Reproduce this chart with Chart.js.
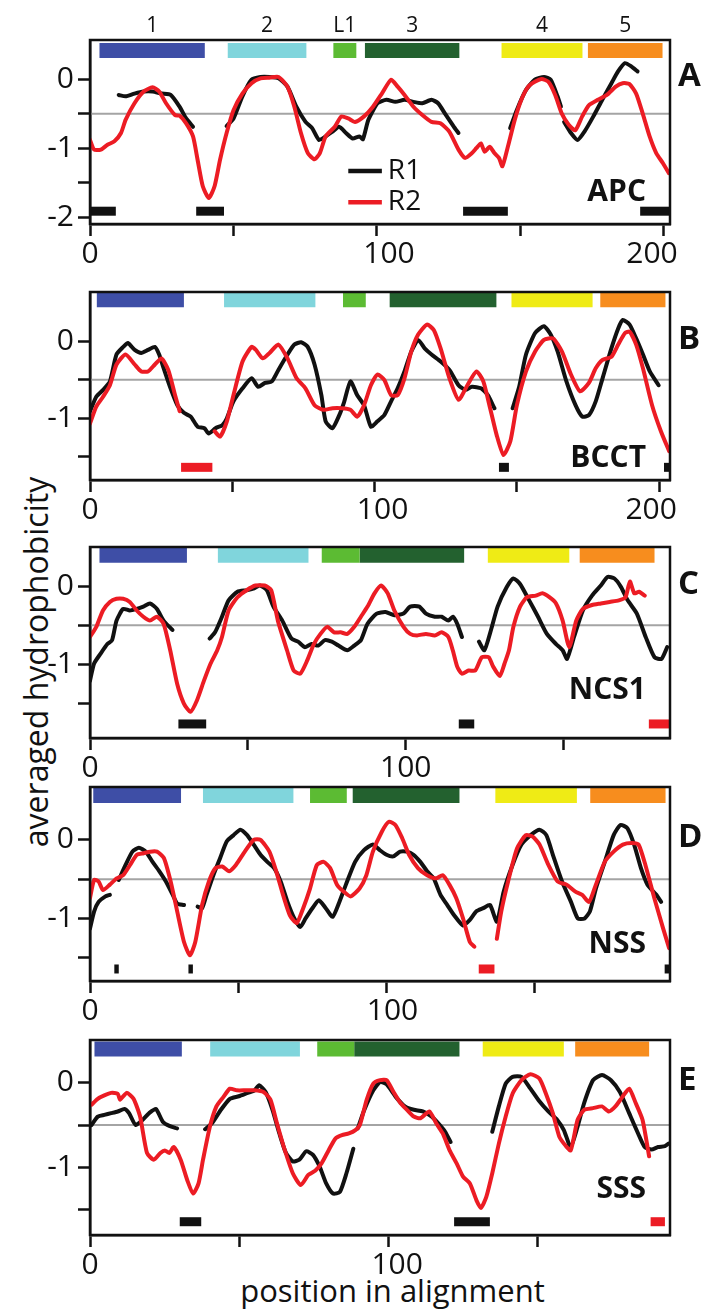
<!DOCTYPE html>
<html>
<head>
<meta charset="utf-8">
<title>averaged hydrophobicity</title>
<script src="https://cdn.jsdelivr.net/npm/chart.js@4.4.1/dist/chart.umd.min.js"></script>
<style>
  html, body { margin: 0; padding: 0; background: #fff; }
  #fig { position: relative; width: 705px; height: 1312px; overflow: hidden; font-family: "Open Sans", sans-serif; color: #111; }
  #fig canvas { position: absolute; left: 0; }
  .ytitle { position: absolute; left: -214px; top: 642px; width: 500px; height: 40px; line-height: 40px;
            text-align: center; font-size: 32px; transform: rotate(-90deg); white-space: nowrap; }
  .xtitle { position: absolute; left: 0; top: 1272px; width: 785px; text-align: center; font-size: 31px; line-height: 36px; white-space: nowrap; }
</style>
</head>
<body>
<div id="fig">
  <div class="ytitle">averaged hydrophobicity</div>
  <div class="xtitle">position in alignment</div>
</div>
<script>
// averaged hydrophobicity along the alignment, [position, value]; a null value breaks the trace
const apcR1 = [[10,-0.23],[12.4,-0.25],[15.5,-0.21],[18.7,-0.18],[21.8,-0.18],[24.9,-0.21],[28.1,-0.23],[31.2,-0.40],[33.5,-0.57],[35.9,-0.69],[41,null],
  [47.6,-0.68],[50,-0.57],[53.1,-0.25],[56.3,-0.01],[59.4,0.03],[62.5,0.03],[65.7,0.01],[68.8,-0.11],[71.9,-0.40],[75.1,-0.62],[77.4,-0.71],[79.8,-0.88],[82.1,-0.83],[84.5,-0.76],[86.8,-0.69],[89.2,-0.78],[91.5,-0.86],[93.9,-0.83],[95.1,-0.87],[97,-0.59],[100.2,-0.35],[103.3,-0.30],[106.4,-0.33],[109.6,-0.30],[112.7,-0.33],[115.8,-0.35],[119,-0.30],[121.3,-0.35],[123.7,-0.50],[126.8,-0.69],[128.4,-0.78],[137,null],
  [146.4,-0.71],[148.7,-0.45],[151.9,-0.16],[155,-0.01],[158.2,0.03],[160.5,-0.01],[162.9,-0.25],[164.1,-0.40],[164.6,null],
  [165.2,-0.62],[167.6,-0.78],[169.9,-0.88],[172.3,-0.76],[175.4,-0.54],[178.5,-0.30],[181.7,-0.06],[184,0.11],[186.4,0.23],[188.7,0.18],[190.8,0.11]];
const apcR2 = [[0,-0.88],[1.4,-1.02],[3.8,-1.02],[6.1,-0.95],[8.5,-0.90],[10.8,-0.78],[12.4,-0.59],[15.5,-0.35],[18.7,-0.18],[21.8,-0.12],[24.1,-0.18],[26.5,-0.35],[29.6,-0.52],[31.2,-0.53],[33.5,-0.64],[35.9,-0.83],[37.5,-1.17],[39.3,-1.55],[41.4,-1.72],[43.4,-1.55],[45.3,-1.17],[47.6,-0.78],[50,-0.45],[53.1,-0.21],[56.3,-0.06],[59.4,0.01],[62.5,0.02],[65.7,0.03],[68.8,-0.11],[71.2,-0.40],[73.5,-0.78],[75.9,-1.07],[78.2,-1.16],[80.1,-1.07],[82.1,-0.83],[85.3,-0.69],[87.6,-0.54],[90,-0.57],[92.3,-0.62],[95.5,-0.54],[98.6,-0.40],[101.7,-0.21],[104.9,-0.01],[107.2,-0.11],[109.6,-0.23],[112.7,-0.40],[115.8,-0.52],[119,-0.62],[122.1,-0.64],[125.2,-0.76],[128.4,-1.02],[130.7,-1.14],[133.1,-1.07],[134.6,-1.00],[136.2,-0.93],[137.5,-1.05],[139.3,-0.98],[140.9,-1.07],[142.5,-1.14],[143.7,-1.26],[145.6,-0.98],[148,-0.59],[150.3,-0.30],[152.7,-0.11],[155,-0.04],[157.4,0.00],[159.7,-0.04],[162.1,-0.23],[164.4,-0.50],[166.8,-0.66],[169.1,-0.74],[171.5,-0.54],[173.8,-0.38],[177,-0.30],[180.1,-0.23],[183.2,-0.11],[185.6,-0.06],[187.9,-0.07],[190.3,-0.21],[192.6,-0.50],[195,-0.83],[197.3,-1.07],[199.7,-1.22],[201.7,-1.36]];

const bcctR1 = [[0,-0.91],[2.2,-0.72],[4.6,-0.63],[7,-0.52],[9.3,-0.17],[11.7,-0.07],[13.3,-0.02],[15.7,-0.11],[18,-0.15],[20.4,-0.11],[22.8,-0.07],[24.3,-0.17],[25.9,-0.35],[28.3,-0.61],[30.7,-0.83],[33,-0.93],[35.4,-0.98],[37.8,-1.11],[40.2,-1.13],[41.7,-1.20],[44.1,-1.13],[46.5,-1.09],[48.1,-1.00],[50.4,-0.78],[53.6,-0.61],[56.8,-0.48],[59.1,-0.59],[61.5,-0.54],[63.9,-0.52],[66.2,-0.37],[69.4,-0.17],[71.8,-0.04],[74.2,-0.01],[76.5,-0.07],[78.9,-0.30],[81.3,-0.70],[82.8,-1.04],[85.2,-1.13],[87.6,-0.96],[89.2,-0.80],[91.5,-0.52],[93.9,-0.70],[96.3,-0.83],[98.7,-1.11],[101,-1.04],[103.4,-0.96],[105.8,-0.78],[108.1,-0.61],[110.5,-0.39],[112.9,-0.13],[115.3,0.02],[117.6,-0.09],[120,-0.17],[123.2,-0.26],[126.3,-0.37],[129.5,-0.57],[131.9,-0.63],[134.2,-0.59],[137.4,-0.61],[139.8,-0.70],[142.1,-0.87],[145,null],
  [148.5,-0.87],[150.8,-0.59],[153.2,-0.17],[156.4,0.11],[159.5,0.20],[161.9,0.09],[164.3,-0.13],[167.4,-0.52],[170.6,-0.83],[173,-0.98],[175.3,-0.96],[177.7,-0.78],[180.1,-0.48],[183.2,-0.09],[185.6,0.17],[187.2,0.28],[189.6,0.22],[191.9,0.04],[194.3,-0.17],[196.7,-0.39],[199.8,-0.57]];
const bcctR2 = [[0,-1.07],[2.2,-0.85],[4.6,-0.72],[7,-0.57],[9.3,-0.30],[12.5,-0.17],[15.7,-0.30],[18,-0.39],[20.4,-0.39],[22.8,-0.30],[25.1,-0.22],[27.5,-0.37],[29.9,-0.70],[31.5,-0.91],[38,null],
  [43.8,-1.17],[45.7,-1.24],[48.1,-1.04],[50.4,-0.70],[53.6,-0.26],[56.8,-0.07],[58.3,-0.11],[60.7,-0.22],[63.1,-0.15],[66.2,-0.04],[69.4,-0.22],[72.6,-0.48],[75.7,-0.61],[78.9,-0.83],[82.1,-0.89],[85.2,-0.87],[88.4,-0.87],[91.5,-0.89],[93.9,-0.98],[96.3,-0.83],[98.7,-0.57],[101,-0.43],[103.4,-0.50],[105.8,-0.70],[108.1,-0.70],[110.5,-0.48],[112.9,-0.13],[115.3,0.09],[118.4,0.22],[120.8,0.15],[123.2,-0.09],[126.3,-0.48],[129.5,-0.76],[132.6,-0.57],[135.8,-0.39],[138.2,-0.52],[140.6,-0.87],[142.9,-1.22],[145.3,-1.48],[147.7,-1.30],[150,-0.83],[153.2,-0.39],[156.4,-0.13],[159.5,0.02],[162.7,0.04],[165.8,-0.13],[169,-0.43],[172.2,-0.65],[175.3,-0.54],[177.7,-0.35],[180.1,-0.24],[183.2,-0.20],[185.6,-0.04],[188,0.11],[189.6,0.13],[191.9,-0.04],[194.3,-0.35],[197.5,-0.83],[200.6,-1.17],[203.5,-1.43]];

const ncsR1 = [[0,-1.21],[1.3,-0.99],[3.4,-0.86],[5.5,-0.74],[7,-0.69],[8.4,-0.44],[10.5,-0.29],[12.6,-0.31],[14.8,-0.29],[16.9,-0.26],[19,-0.22],[21.2,-0.29],[23.3,-0.44],[26.1,-0.56],[32,null],
  [37.9,-0.67],[39.6,-0.59],[41.8,-0.39],[43.9,-0.18],[46.7,-0.07],[49.6,-0.05],[51.7,-0.03],[53.8,0.01],[56,-0.05],[58.1,-0.26],[60.9,-0.44],[63.8,-0.67],[65.9,-0.71],[68,-0.78],[70.2,-0.74],[72.3,-0.76],[74.4,-0.69],[76.6,-0.71],[78.7,-0.76],[81.5,-0.82],[83.7,-0.76],[85.8,-0.69],[87.9,-0.48],[90.8,-0.35],[93.6,-0.33],[96.4,-0.37],[99.3,-0.35],[101.4,-0.26],[104.3,-0.26],[106.4,-0.35],[109.2,-0.39],[111.4,-0.39],[113.5,-0.44],[114.9,-0.39],[116.3,-0.48],[117.8,-0.65],[120,null],
  [123.2,-0.71],[124.9,-0.82],[127,-0.56],[129.1,-0.26],[132,-0.01],[134.1,0.10],[136.2,0.03],[139.1,-0.18],[141.9,-0.39],[144.7,-0.61],[147.6,-0.74],[149.7,-0.82],[151.1,-0.93],[153.3,-0.65],[156.1,-0.31],[159,-0.12],[161.8,0.01],[163.9,0.12],[166.1,0.10],[168.2,-0.01],[170.3,-0.18],[173.2,-0.35],[176,-0.65],[178.8,-0.91],[181,-0.93],[182.8,-0.78]];
const ncsR2 = [[0,-0.65],[2,-0.52],[4.1,-0.31],[6.3,-0.20],[8.4,-0.16],[10.5,-0.16],[12.6,-0.20],[14.8,-0.31],[16.9,-0.39],[19,-0.44],[21.2,-0.39],[23.3,-0.48],[25.4,-0.82],[27.6,-1.25],[29.7,-1.50],[31.8,-1.61],[33.9,-1.46],[36.1,-1.21],[38.2,-0.99],[40.3,-0.82],[41.8,-0.65],[43.9,-0.31],[46.7,-0.14],[49.6,-0.05],[52.4,0.01],[55.3,0.01],[57.4,-0.05],[59.5,-0.44],[62.4,-0.82],[64.5,-1.08],[66.6,-1.12],[68.8,-0.95],[70.9,-0.74],[73,-0.61],[75.1,-0.52],[77.3,-0.59],[79.4,-0.59],[81.5,-0.61],[83.7,-0.52],[85.8,-0.39],[87.9,-0.26],[90.1,-0.09],[92.2,0.01],[94.3,-0.09],[96.4,-0.31],[99.3,-0.52],[101.4,-0.61],[103.6,-0.63],[106.4,-0.61],[109.2,-0.63],[111.4,-0.59],[113.5,-0.65],[114.9,-0.82],[116.3,-1.03],[117.8,-1.12],[119.9,-1.08],[122,-1.08],[124.1,-0.91],[126.3,-0.91],[127.7,-1.03],[129.8,-1.15],[131.3,-0.99],[132.7,-0.82],[134.1,-0.52],[136.2,-0.26],[138.4,-0.14],[141.2,-0.12],[143.3,-0.09],[145.5,-0.14],[147.6,-0.22],[149.7,-0.44],[151.8,-0.78],[154,-0.44],[156.1,-0.29],[159,-0.24],[161.8,-0.22],[164.6,-0.20],[167.5,-0.18],[169.6,-0.14],[171,0.06],[172.4,-0.09],[173.9,-0.07],[175.7,-0.12]];

const nssR1 = [[0,-1.13],[1.4,-0.91],[2.9,-0.79],[5.2,-0.72],[6.7,-0.70],[8.2,null],
  [9.7,-0.51],[12,-0.32],[14.3,-0.15],[16.5,-0.10],[18.8,-0.15],[21.1,-0.28],[23.4,-0.40],[25.6,-0.53],[27.9,-0.70],[29.4,-0.81],[31.7,-0.83],[34,null],
  [36.3,-0.85],[37.8,-0.87],[39.3,-0.70],[41.6,-0.45],[43.9,-0.23],[46.1,-0.02],[48.4,0.06],[50.7,0.13],[53,0.06],[55.2,-0.06],[57.5,-0.19],[59.8,-0.28],[62.1,-0.36],[64.3,-0.53],[66.6,-0.79],[68.9,-1.00],[70.9,-1.11],[72.7,-1.00],[75,-0.87],[77.2,-0.77],[79.5,-0.87],[81.8,-0.98],[84.1,-0.79],[86.3,-0.57],[89.4,-0.28],[92.4,-0.13],[95.4,-0.06],[97.7,-0.13],[100,-0.19],[102.3,-0.21],[104.6,-0.15],[106.8,-0.15],[109.1,-0.19],[111.4,-0.28],[113.7,-0.40],[115.9,-0.49],[118.2,-0.70],[120.5,-0.83],[122.8,-0.96],[125.8,-1.09],[128.1,-1.02],[130.3,-0.91],[132.6,-0.87],[134.9,-0.83],[137.2,-1.04],[139.5,-0.66],[142.5,-0.32],[145.5,-0.06],[148.6,0.06],[151.6,0.13],[153.9,0.06],[156.1,-0.19],[159.2,-0.53],[162.2,-0.79],[164.5,-1.00],[166.8,-1.00],[168.6,-0.91],[170.6,-0.62],[173.6,-0.28],[176.6,0.06],[178.9,0.19],[181.2,0.15],[183.5,-0.06],[185.8,-0.36],[188,-0.57],[191,-0.70],[192.6,-0.79]];
const nssR2 = [[0,-0.74],[1.4,-0.51],[2.9,-0.53],[4.4,-0.64],[6.7,-0.57],[9,-0.49],[11.2,-0.45],[13.5,-0.32],[15.8,-0.19],[18.1,-0.17],[20.3,-0.15],[22.6,-0.15],[24.9,-0.23],[27.2,-0.53],[29.4,-0.91],[31.7,-1.30],[33.7,-1.47],[35.5,-1.30],[37.8,-0.83],[40.1,-0.53],[42.3,-0.36],[44.6,-0.34],[46.9,-0.40],[49.2,-0.32],[52.2,-0.15],[55.2,0.00],[57.5,0.00],[60.5,-0.15],[62.8,-0.40],[65.1,-0.70],[67.4,-0.96],[69.7,-1.06],[71.9,-0.87],[74.2,-0.62],[76.5,-0.32],[78.8,-0.28],[81,-0.36],[83.3,-0.57],[85.6,-0.66],[87.9,-0.72],[90.9,-0.62],[93.2,-0.45],[95.4,-0.15],[98.5,0.11],[100.8,0.23],[103,0.19],[105.3,0.02],[107.6,-0.19],[110.6,-0.36],[113.7,-0.45],[116.7,-0.49],[119,-0.45],[121.2,-0.57],[123.5,-0.74],[125.8,-1.00],[128.1,-1.30],[129.6,-1.36],[133,null],
  [137.2,-1.26],[138.7,-0.91],[141,-0.53],[144,-0.11],[147,0.06],[149.3,0.04],[151.6,-0.06],[154.6,-0.32],[157.7,-0.53],[160.7,-0.57],[163.7,-0.66],[166,-0.70],[168.3,-0.79],[170.6,-0.57],[173.6,-0.28],[176.6,-0.15],[179.7,-0.06],[182.7,-0.04],[185,-0.06],[187.3,-0.32],[190.3,-0.74],[193.3,-1.13],[195.3,-1.38]];

const sssR1 = [[0.5,-0.50],[2.6,-0.40],[4.8,-0.38],[7.1,-0.36],[9.3,-0.34],[11.6,-0.31],[13.1,-0.36],[15.3,-0.50],[17.6,-0.44],[19.8,-0.36],[22.1,-0.31],[24.4,-0.46],[26.6,-0.51],[29.2,-0.54],[34,null],
  [38.6,-0.55],[40.9,-0.48],[43.9,-0.32],[46.9,-0.19],[49.9,-0.16],[52.9,-0.12],[55.2,-0.09],[56.7,-0.03],[58.9,-0.11],[61.2,-0.32],[63.5,-0.60],[65.7,-0.83],[68,-0.93],[70.2,-0.91],[72.5,-0.81],[74.7,-0.85],[77,-0.99],[79.2,-1.19],[81.5,-1.31],[83.8,-1.29],[86,-1.07],[88.3,-0.78],[89,null],
  [89.8,-0.54],[92,-0.32],[95,-0.09],[97.3,0.01],[99.5,-0.02],[102.6,-0.17],[105.6,-0.28],[108.6,-0.32],[111.6,-0.34],[114.6,-0.40],[116.8,-0.48],[119.1,-0.58],[120.9,-0.70],[128,null],
  [134.9,-0.58],[137.1,-0.28],[139.4,-0.01],[141.7,0.07],[144.7,0.07],[147.7,-0.07],[150.7,-0.22],[153.7,-0.34],[156.7,-0.44],[158.9,-0.56],[161.2,-0.76],[163.5,-0.52],[165.7,-0.24],[168.7,0.03],[171.7,0.09],[174.7,0.03],[177.7,-0.11],[180.8,-0.36],[183.8,-0.60],[186,-0.76],[188.3,-0.79],[190.5,-0.76],[192.8,-0.75],[194,-0.72]];
const sssR2 = [[0.5,-0.26],[2.6,-0.19],[4.8,-0.15],[7.1,-0.12],[9.3,-0.13],[10.1,-0.20],[12.3,-0.12],[14.6,-0.19],[16.8,-0.40],[19.1,-0.83],[21.4,-0.91],[23.6,-0.83],[25.1,-0.80],[26.6,-0.83],[28.1,-0.76],[30.4,-0.91],[32.6,-1.15],[34.6,-1.31],[36.4,-1.19],[37.9,-0.91],[40.2,-0.52],[42.4,-0.28],[44.7,-0.17],[46.9,-0.07],[49.2,-0.09],[52.2,-0.09],[55.2,-0.09],[58.2,-0.11],[60.5,-0.20],[62.7,-0.48],[65,-0.76],[68,-1.07],[70.7,-1.21],[73.2,-1.09],[75.5,-1.04],[77.7,-0.95],[80,-0.80],[82.3,-0.66],[84.5,-0.62],[86.8,-0.60],[89,-0.56],[90.5,-0.50],[92.8,-0.20],[95,-0.01],[97.3,0.03],[99.5,0.03],[101.8,-0.11],[104.1,-0.24],[106.3,-0.32],[108.6,-0.40],[110.8,-0.42],[113.8,-0.34],[116.1,-0.48],[118.3,-0.60],[120.6,-0.80],[122.9,-0.95],[125.1,-1.11],[127.4,-1.19],[129.6,-1.39],[131.1,-1.48],[132.9,-1.35],[134.9,-1.07],[137.1,-0.72],[139.4,-0.40],[141.7,-0.13],[144.7,0.03],[147.7,0.10],[150.7,0.05],[152.9,-0.13],[155.2,-0.36],[157.4,-0.64],[159.4,-0.74],[161.2,-0.80],[163.5,-0.44],[165.7,-0.32],[168.7,-0.30],[171.7,-0.28],[174,-0.34],[176.2,-0.28],[178.5,-0.17],[180.8,-0.07],[183,-0.24],[185.3,-0.44],[187.5,-0.87]];

// structural segments, [start, end] in alignment positions
const segNames = ['1', '2', 'L1', '3', '4', '5'];
const segColors = ['#3e4ea6', '#80d5dc', '#5cbb33', '#23612f', '#efeb15', '#f78d1e'];
const apcSegs = [[3.3,40],[48,75.4],[84.8,92.8],[95.8,128.7],[143.4,171.6],[173.5,199.5]];
const bcctSegs = [[2.4,33],[47.1,79.2],[88.9,96.9],[105.3,142.8],[148.1,176.6],[179.3,202.2]];
const ncsSegs = [[3,30.7],[40.5,69.2],[73.4,85.4],[85.4,118.5],[126,151.8],[155.1,178.8]];
const nssSegs = [[1.1,30.7],[38.1,68.6],[74.2,86.6],[88.6,124.6],[136.7,164.2],[168.7,194.1]];
const sssSegs = [[1.5,30.8],[40.3,70.4],[76.2,88.6],[88.6,123.9],[131.7,158.9],[162.7,187.5]];

// short stretches marked below the traces (R1 black, R2 red)
const apcMarksR1 = [[0,9],[37,46.7],[130,145.6],[191.7,202]];
const apcMarksR2 = [];
const bcctMarksR1 = [[143.7,147.2],[201.7,203.8]];
const bcctMarksR2 = [[32,43]];
const ncsMarksR1 = [[28,36.8],[116.8,121.7]];
const ncsMarksR2 = [[177,183.5]];
const nssMarksR1 = [[8.2,9.7],[33.2,34.7],[193.8,195.6]];
const nssMarksR2 = [[131.1,136.4]];
const sssMarksR1 = [[30.1,37.3],[122.1,134.1]];
const sssMarksR2 = [[188,192.8]];

const BLACK = '#111111';
const RED = '#ec1c24';
const FONT = '"Open Sans", sans-serif';
Chart.defaults.font.family = FONT;
Chart.defaults.color = BLACK;

// xShift nudges individual position labels sideways (px)
const panels = [
  { id: 'A', name: 'APC', top: 0, boxTop: 40, boxBottom: 224, below: 50, xMax: 202.1, yMin: -2.095, yMax: 0.564,
    yTicks: [-2, -1.5, -1, -0.5, 0], xTicks: [0, 50, 100, 150, 200], xShift: { 100: 12, 200: -12 },
    segLevel: 0.412, markLevel: -1.91, nameLift: 32,
    r1: apcR1, r2: apcR2, segs: apcSegs, marks1: apcMarksR1, marks2: apcMarksR2, segLabels: true, legend: true },
  { id: 'B', name: 'BCCT', top: 252, boxTop: 292, boxBottom: 480, below: 50, xMax: 203.8, yMin: -1.805, yMax: 0.645,
    yTicks: [-1.5, -1, -0.5, 0], xTicks: [0, 50, 100, 150, 200], xShift: { 100: 8, 200: -8 },
    segLevel: 0.544, markLevel: -1.64, nameLift: 22,
    r1: bcctR1, r2: bcctR2, segs: bcctSegs, marks1: bcctMarksR1, marks2: bcctMarksR2 },
  { id: 'C', name: 'NCS1', top: 507, boxTop: 547, boxBottom: 738, below: 50, xMax: 183.7, yMin: -1.945, yMax: 0.504,
    yTicks: [-1.5, -1, -0.5, 0], xTicks: [0, 50, 100, 150], xShift: {},
    segLevel: 0.397, markLevel: -1.765, nameLift: 48,
    r1: ncsR1, r2: ncsR2, segs: ncsSegs, marks1: ncsMarksR1, marks2: ncsMarksR2 },
  { id: 'D', name: 'NSS', top: 747, boxTop: 787, boxBottom: 981, below: 50, xMax: 195.6, yMin: -1.797, yMax: 0.673,
    yTicks: [-1.5, -1, -0.5, 0], xTicks: [0, 50, 100, 150], xShift: { 100: 6 },
    segLevel: 0.565, markLevel: -1.644, nameLift: 37,
    r1: nssR1, r2: nssR2, segs: nssSegs, marks1: nssMarksR1, marks2: nssMarksR2 },
  { id: 'E', name: 'SSS', top: 1000, boxTop: 1040, boxBottom: 1235, below: 77, xMax: 194.5, yMin: -1.80, yMax: 0.505,
    yTicks: [-1.5, -1, -0.5, 0], xTicks: [0, 50, 100, 150], xShift: { 100: 9 },
    segLevel: 0.40, markLevel: -1.643, nameLift: 46,
    r1: sssR1, r2: sssR2, segs: sssSegs, marks1: sssMarksR1, marks2: sssMarksR2 }
];

function band(range, level, color, width) {
  return {
    data: [{ x: range[0], y: level }, { x: range[1], y: level }],
    borderColor: color, borderWidth: width, borderCapStyle: 'butt',
    pointRadius: 0, tension: 0, order: 3
  };
}

function trace(points, color, order) {
  return {
    data: points.map(([x, y]) => ({ x, y })),
    borderColor: color, borderWidth: 4, borderJoinStyle: 'round', borderCapStyle: 'round',
    pointRadius: 0, tension: 0.2, spanGaps: false, order
  };
}

function buildPanel(p) {
  const canvas = document.createElement('canvas');
  const h = p.boxBottom - p.top + p.below;
  canvas.width = 705;
  canvas.height = h;
  canvas.style.top = p.top + 'px';
  canvas.style.width = '705px';
  canvas.style.height = h + 'px';
  document.getElementById('fig').appendChild(canvas);

  const datasets = [
    { data: [{ x: 0, y: -0.5 }, { x: p.xMax, y: -0.5 }], borderColor: '#a4a4a4', borderWidth: 2, pointRadius: 0, order: 5 },
    ...p.segs.map((s, i) => band(s, p.segLevel, segColors[i], 15)),
    ...p.marks1.map(s => band(s, p.markLevel, BLACK, 9)),
    ...p.marks2.map(s => band(s, p.markLevel, RED, 9)),
    trace(p.r1, BLACK, 2),
    trace(p.r2, RED, 1)
  ];

  const decorations = {
    id: 'decorations',
    afterDatasetsDraw(chart) {
      const { ctx, chartArea: a, scales: { x, y } } = chart;
      ctx.save();
      ctx.strokeStyle = BLACK;
      ctx.lineWidth = 2.5;
      ctx.strokeRect(a.left, a.top, a.right - a.left, a.bottom - a.top);

      ctx.fillStyle = BLACK;
      ctx.textBaseline = 'middle';

      // position labels under the axis
      ctx.font = '30px ' + FONT;
      ctx.textAlign = 'center';
      p.xTicks.filter(v => v % 100 === 0).forEach(v => {
        ctx.fillText(String(v), x.getPixelForValue(v) + (p.xShift[v] || 0), a.bottom + 30);
      });

      ctx.font = 'bold 33px ' + FONT;
      ctx.textAlign = 'left';
      ctx.fillText(p.id, a.right + 8, y.getPixelForValue(0) - 2);

      ctx.font = 'bold 30px ' + FONT;
      ctx.textAlign = 'right';
      ctx.fillText(p.name, a.right - 24, a.bottom - p.nameLift);

      if (p.segLabels) {
        ctx.font = '21px ' + FONT;
        ctx.textAlign = 'center';
        p.segs.forEach((s, i) => {
          ctx.fillText(segNames[i], x.getPixelForValue((s[0] + s[1]) / 2), a.top - 14);
        });
      }

      if (p.legend) {
        const x0 = x.getPixelForValue(90), x1 = x.getPixelForValue(101.7);
        [['R1', BLACK, -1.33], ['R2', RED, -1.78]].forEach(([label, color, v]) => {
          const py = y.getPixelForValue(v);
          ctx.strokeStyle = color;
          ctx.lineWidth = 4.5;
          ctx.beginPath();
          ctx.moveTo(x0, py);
          ctx.lineTo(x1, py);
          ctx.stroke();
          ctx.fillStyle = BLACK;
          ctx.font = '28px ' + FONT;
          ctx.textAlign = 'left';
          ctx.fillText(label, x1 + 6, py);
        });
      }
      ctx.restore();
    }
  };

  new Chart(canvas, {
    type: 'line',
    data: { datasets },
    options: {
      responsive: false,
      animation: false,
      devicePixelRatio: 1,
      layout: { padding: { top: p.boxTop - p.top, right: 35, left: 0, bottom: 0 } },
      plugins: { legend: { display: false }, tooltip: { enabled: false } },
      scales: {
        x: {
          type: 'linear', min: 0, max: p.xMax,
          afterFit: s => { s.height = p.below; },
          afterBuildTicks: s => { s.ticks = p.xTicks.map(v => ({ value: v })); },
          ticks: { autoSkip: false, maxRotation: 0, padding: 0, color: 'rgba(0,0,0,0)', font: { size: 30 } },
          grid: { drawOnChartArea: false, tickLength: 12, tickWidth: 2.5, tickColor: BLACK },
          border: { color: BLACK, width: 2.5 }
        },
        y: {
          min: p.yMin, max: p.yMax,
          afterFit: s => { s.width = 90; },
          afterBuildTicks: s => { s.ticks = p.yTicks.map(v => ({ value: v })); },
          ticks: { padding: 4, color: BLACK, font: { size: 30 },
                   callback: v => (Number.isInteger(v) ? String(v) : '') },
          grid: { drawOnChartArea: false, tickLength: 12, tickWidth: 2.5, tickColor: BLACK },
          border: { color: BLACK, width: 2.5 }
        }
      }
    },
    plugins: [decorations]
  });
}

panels.forEach(buildPanel);
</script>
</body>
</html>
